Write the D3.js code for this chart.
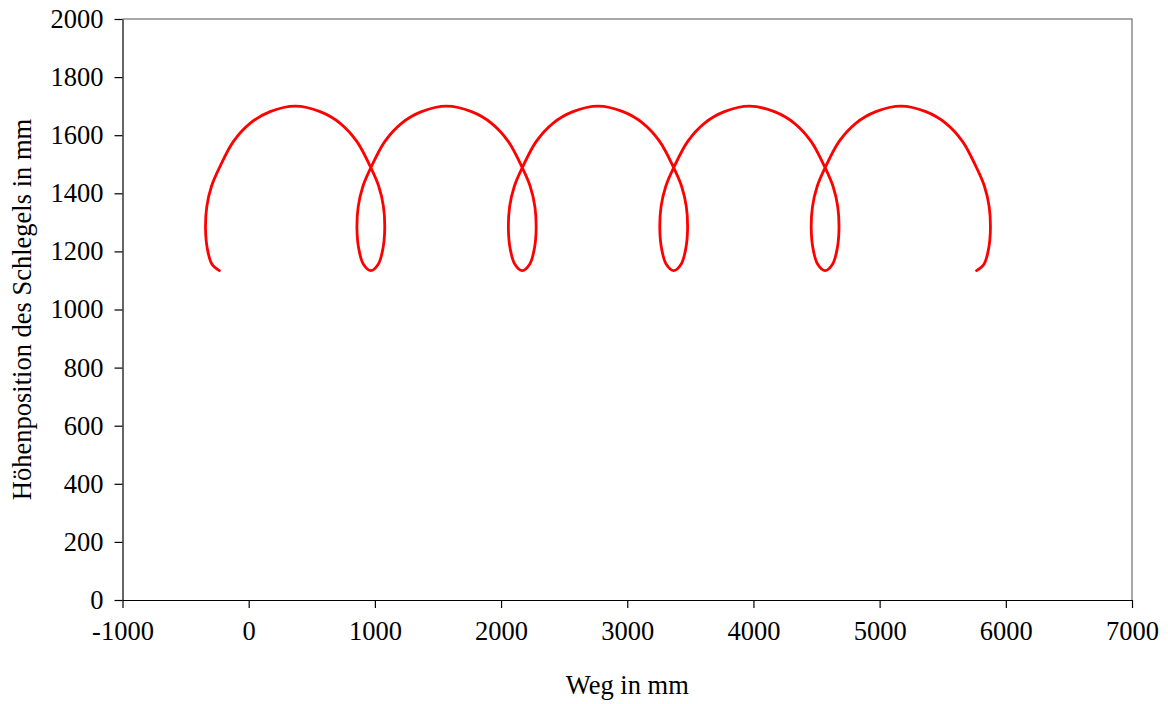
<!DOCTYPE html>
<html>
<head>
<meta charset="utf-8">
<script src="https://cdn.jsdelivr.net/npm/d3@7"></script>
<style>
  body { margin: 0; background: #fff; }
  svg text { font-family: "Liberation Serif", "Times New Roman", Tinos, "DejaVu Serif", serif; fill: #000; }
</style>
</head>
<body>
<div id="chart"></div>
<script>
// Schlegel path (mm), one line per loop
var wegX = [
  -232, -292, -328, -342, -332, -294, -232, -122, 11, 170, 368, 566, 725, 858, 968, 1030, 1068, 1078, 1064, 1028,
  968, 908, 872, 858, 868, 906, 968, 1078, 1211, 1370, 1568, 1766, 1925, 2058, 2168, 2230, 2268, 2278, 2264, 2228,
  2168, 2108, 2072, 2058, 2068, 2106, 2168, 2278, 2411, 2570, 2768, 2966, 3125, 3258, 3368, 3430, 3468, 3478, 3464, 3428,
  3368, 3308, 3272, 3258, 3268, 3306, 3368, 3478, 3611, 3770, 3968, 4166, 4325, 4458, 4568, 4630, 4668, 4678, 4664, 4628,
  4568, 4508, 4472, 4458, 4468, 4506, 4568, 4678, 4811, 4970, 5168, 5366, 5525, 5658, 5768, 5830, 5868, 5878, 5864, 5828,
  5768
];
var hoeheY = [
  1134, 1157, 1210, 1278, 1354, 1425, 1488, 1578, 1641, 1681, 1700, 1681, 1641, 1578, 1488, 1425, 1354, 1278, 1210, 1157,
  1134, 1157, 1210, 1278, 1354, 1425, 1488, 1578, 1641, 1681, 1700, 1681, 1641, 1578, 1488, 1425, 1354, 1278, 1210, 1157,
  1134, 1157, 1210, 1278, 1354, 1425, 1488, 1578, 1641, 1681, 1700, 1681, 1641, 1578, 1488, 1425, 1354, 1278, 1210, 1157,
  1134, 1157, 1210, 1278, 1354, 1425, 1488, 1578, 1641, 1681, 1700, 1681, 1641, 1578, 1488, 1425, 1354, 1278, 1210, 1157,
  1134, 1157, 1210, 1278, 1354, 1425, 1488, 1578, 1641, 1681, 1700, 1681, 1641, 1578, 1488, 1425, 1354, 1278, 1210, 1157,
  1134
];
var xTicks = [-1000, 0, 1000, 2000, 3000, 4000, 5000, 6000, 7000];
var yTicks = [0, 200, 400, 600, 800, 1000, 1200, 1400, 1600, 1800, 2000];

var w = 1168, h = 704;
var mLeft = 122.5, mRight = 1132, mTop = 19, mBottom = 600;
var serif = '"Liberation Serif", "Times New Roman", Tinos, "DejaVu Serif", serif';
var fs = '26.5px';

var svg = d3.select('#chart').append('svg')
    .attr('width', w)
    .attr('height', h)
    .attr('font-family', serif);

var xscale = d3.scaleLinear().domain([-1000, 7000]).range([mLeft, mRight]);
var yscale = d3.scaleLinear().domain([0, 2000]).range([mBottom, mTop]);

// grey frame on top / right
svg.append('path')
    .attr('d', 'M' + mLeft + ',' + mTop + 'H' + mRight + 'V' + mBottom)
    .attr('fill', 'none')
    .attr('stroke', '#8c8c8c')
    .attr('stroke-width', 1.5);

var fmt = function (d) { return String(d); };
var xAxis = d3.axisBottom(xscale).tickValues(xTicks).tickFormat(fmt)
    .tickSize(8).tickSizeOuter(0).tickPadding(13);
var yAxis = d3.axisLeft(yscale).tickValues(yTicks).tickFormat(fmt)
    .tickSize(8).tickSizeOuter(0).tickPadding(11);

svg.append('g')
    .attr('class', 'xaxis')
    .attr('transform', 'translate(0,' + mBottom + ')')
    .call(xAxis)
    .attr('font-family', serif);
svg.append('g')
    .attr('class', 'yaxis')
    .attr('transform', 'translate(' + mLeft + ',0)')
    .call(yAxis)
    .attr('font-family', serif);

svg.selectAll('.xaxis path, .xaxis line, .yaxis path, .yaxis line')
    .attr('stroke', '#000')
    .attr('stroke-width', 1.2);
svg.selectAll('.xaxis text, .yaxis text')
    .attr('font-size', fs)
    .attr('font-family', serif)
    .attr('fill', '#000');

// the curve
var pts = wegX.map(function (d, i) { return {x: d, y: hoeheY[i]}; });
var line = d3.line()
    .x(function (d) { return xscale(d.x); })
    .y(function (d) { return yscale(d.y); })
    .curve(d3.curveCatmullRom.alpha(0.5));

svg.append('path')
    .attr('d', line(pts))
    .attr('fill', 'none')
    .attr('stroke', '#ff0000')
    .attr('stroke-width', 2.8)
    .attr('stroke-linecap', 'round')
    .attr('stroke-linejoin', 'round');

// axis titles
svg.append('text')
    .text('Weg in mm')
    .attr('x', (mLeft + mRight) / 2)
    .attr('y', 694)
    .attr('text-anchor', 'middle')
    .attr('font-family', serif)
    .attr('font-size', fs);

svg.append('text')
    .text('Höhenposition des Schlegels in mm')
    .attr('transform', 'translate(31,' + ((mTop + mBottom) / 2) + ') rotate(-90)')
    .attr('text-anchor', 'middle')
    .attr('font-family', serif)
    .attr('font-size', fs);
</script>
</body>
</html>
